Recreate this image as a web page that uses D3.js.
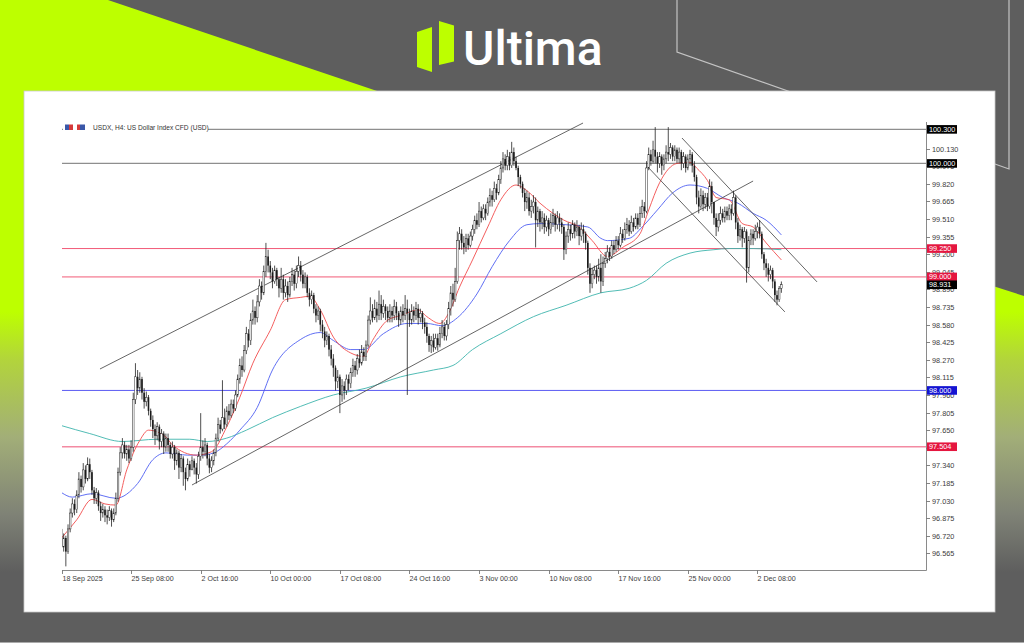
<!DOCTYPE html>
<html><head><meta charset="utf-8">
<script src="https://cdn.jsdelivr.net/npm/d3@7"></script>
<style>html,body{margin:0;padding:0;background:#5e5e5e;overflow:hidden}svg{display:block}</style>
</head><body><svg id="c" width="1024" height="643"></svg>
<script>
// ---------- DATA ----------
const xTickLabels = ["18 Sep 2025","25 Sep 08:00","2 Oct 16:00","10 Oct 00:00","17 Oct 08:00","24 Oct 16:00","3 Nov 00:00","10 Nov 08:00","17 Nov 16:00","25 Nov 00:00","2 Dec 08:00"];
const xTickBars = [0,32,64,96,128,160,192,224,256,288,320];
const yTickLabels = ["100.130","99.975","99.820","99.665","99.510","99.355","99.200","99.045","98.890","98.735","98.580","98.425","98.270","98.115","97.960","97.805","97.650","97.495","97.340","97.185","97.030","96.875","96.720","96.565"];
const title = "USDX, H4:  US Dollar Index CFD (USD)";
const firstOpen = 96.78;
const closes = [
96.62,96.70,96.58,96.78,96.92,97.00,96.95,97.08,97.22,97.15,
97.30,97.22,97.35,97.28,97.12,97.05,97.10,96.98,96.92,96.95,
96.90,96.88,96.94,96.86,96.92,97.05,97.28,97.45,97.52,97.44,
97.48,97.40,97.50,97.92,98.12,98.02,98.10,97.98,97.90,97.94,
97.82,97.74,97.66,97.60,97.68,97.55,97.62,97.50,97.58,97.52,
97.44,97.50,97.38,97.45,97.32,97.40,97.28,97.22,97.35,97.30,
97.38,97.32,97.26,97.42,97.50,97.46,97.52,97.40,97.32,97.38,
97.45,97.58,97.70,97.66,97.76,97.70,97.82,97.78,97.88,97.84,
97.96,98.10,98.22,98.18,98.35,98.50,98.44,98.62,98.70,98.64,
98.78,98.92,98.86,99.05,99.18,99.10,99.04,98.96,99.06,98.98,
98.90,98.98,98.86,98.92,98.84,98.96,99.02,98.94,99.05,99.10,
99.02,98.94,99.00,98.86,98.80,98.84,98.72,98.66,98.70,98.58,
98.52,98.44,98.48,98.36,98.28,98.20,98.08,98.12,97.96,98.04,
98.00,98.10,98.06,98.16,98.22,98.18,98.28,98.24,98.34,98.30,
98.40,98.62,98.70,98.64,98.72,98.66,98.76,98.68,98.74,98.70,
98.64,98.70,98.66,98.74,98.68,98.62,98.70,98.66,98.72,98.68,
98.62,98.70,98.66,98.72,98.64,98.68,98.60,98.56,98.48,98.40,
98.44,98.38,98.46,98.40,98.50,98.56,98.48,98.58,98.72,98.86,
98.80,98.96,99.32,99.38,99.30,99.26,99.34,99.28,99.36,99.42,
99.50,99.46,99.58,99.52,99.60,99.56,99.66,99.72,99.68,99.78,
99.74,99.86,99.96,100.04,99.98,100.06,99.98,100.10,100.02,99.96,
99.88,99.82,99.74,99.66,99.70,99.58,99.62,99.66,99.50,99.58,
99.48,99.52,99.44,99.50,99.42,99.48,99.54,99.46,99.52,99.48,
99.44,99.24,99.36,99.42,99.38,99.46,99.40,99.44,99.36,99.42,
99.38,99.30,99.08,98.94,99.02,99.06,99.00,99.08,98.96,99.12,
99.16,99.22,99.18,99.28,99.24,99.32,99.28,99.38,99.34,99.42,
99.46,99.40,99.48,99.44,99.52,99.46,99.56,99.62,99.58,99.96,
100.08,100.02,100.12,100.06,100.00,100.06,99.98,100.04,100.10,100.08,
100.14,100.06,100.12,100.04,100.10,100.00,100.06,99.96,100.04,100.08,
99.98,99.88,99.70,99.62,99.72,99.64,99.70,99.62,99.80,99.66,
99.52,99.44,99.50,99.56,99.52,99.58,99.54,99.60,99.56,99.70,
99.48,99.36,99.42,99.34,99.40,99.08,99.32,99.38,99.34,99.40,
99.44,99.38,99.20,99.12,99.08,99.02,99.06,98.96,98.84,98.80,98.90,98.931];
const highs = [
96.80,96.74,96.72,96.82,96.96,97.05,97.04,97.12,97.28,97.25,
97.36,97.34,97.41,97.40,97.30,97.15,97.14,97.12,97.02,97.00,
96.98,96.95,96.98,96.96,96.96,97.10,97.32,97.50,97.58,97.55,
97.52,97.52,97.56,97.98,98.24,98.18,98.16,98.12,98.02,97.99,
97.96,97.84,97.78,97.70,97.72,97.70,97.66,97.64,97.62,97.62,
97.54,97.55,97.52,97.48,97.47,97.44,97.42,97.32,97.40,97.38,
97.42,97.40,97.36,97.46,97.80,97.56,97.58,97.54,97.44,97.42,
97.48,97.62,97.76,97.74,98.09,97.84,97.86,97.88,97.92,97.92,
98.00,98.14,98.28,98.30,98.40,98.56,98.54,98.68,98.80,98.74,
98.84,98.98,98.96,99.10,99.30,99.24,99.14,99.08,99.10,99.08,
99.00,99.08,99.02,98.98,98.96,99.00,99.08,99.06,99.10,99.18,
99.14,99.06,99.04,99.02,98.90,98.88,98.86,98.76,98.74,98.72,
98.62,98.56,98.52,98.50,98.40,98.32,98.22,98.18,98.14,98.10,
98.08,98.14,98.14,98.20,98.28,98.26,98.32,98.36,98.40,98.38,
98.44,98.66,98.82,98.76,98.80,98.78,98.88,98.84,98.80,98.76,
98.74,98.76,98.74,98.80,98.78,98.70,98.74,98.76,98.84,98.80,
98.72,98.76,98.74,98.78,98.76,98.72,98.70,98.64,98.60,98.50,
98.48,98.50,98.50,98.50,98.56,98.62,98.60,98.62,98.78,98.92,
98.94,99.08,99.40,99.44,99.42,99.36,99.38,99.38,99.40,99.46,
99.54,99.56,99.66,99.62,99.64,99.64,99.70,99.78,99.76,99.84,
99.82,99.90,100.02,100.10,100.08,100.12,100.10,100.19,100.14,100.06,
99.98,99.90,99.84,99.78,99.76,99.74,99.68,99.72,99.70,99.62,
99.60,99.58,99.56,99.54,99.52,99.56,99.60,99.56,99.58,99.56,
99.52,99.46,99.40,99.48,99.46,99.50,99.48,99.50,99.46,99.48,
99.46,99.40,99.32,99.12,99.08,99.10,99.10,99.16,99.20,99.18,
99.22,99.28,99.26,99.32,99.32,99.36,99.36,99.44,99.42,99.48,
99.52,99.50,99.54,99.52,99.56,99.56,99.62,99.68,99.66,100.02,
100.14,100.12,100.20,100.32,100.10,100.10,100.08,100.08,100.16,100.32,
100.18,100.16,100.16,100.14,100.14,100.12,100.10,100.08,100.08,100.12,
100.10,100.02,99.90,99.76,99.78,99.76,99.74,99.74,99.86,99.84,
99.66,99.56,99.56,99.62,99.60,99.62,99.62,99.64,99.64,99.76,
99.72,99.52,99.46,99.44,99.44,99.42,99.36,99.42,99.42,99.46,
99.48,99.50,99.40,99.22,99.16,99.12,99.10,99.08,98.98,98.88,98.92,98.96];
const lows = [
96.56,96.58,96.45,96.56,96.75,96.88,96.90,96.92,97.05,97.10,
97.12,97.18,97.20,97.22,97.08,97.00,97.00,96.94,96.85,96.88,
96.84,96.82,96.85,96.80,96.84,96.90,97.02,97.25,97.40,97.40,
97.38,97.36,97.38,97.46,97.88,97.96,97.98,97.92,97.84,97.86,
97.78,97.68,97.58,97.52,97.56,97.48,97.50,97.44,97.46,97.46,
97.40,97.40,97.30,97.34,97.22,97.28,97.16,97.12,97.20,97.24,
97.30,97.26,97.18,97.22,97.38,97.40,97.42,97.34,97.27,97.28,
97.34,97.42,97.55,97.62,97.64,97.66,97.68,97.74,97.76,97.80,
97.82,97.94,98.06,98.12,98.16,98.32,98.38,98.40,98.58,98.58,
98.60,98.74,98.80,98.84,99.00,99.04,98.98,98.90,98.94,98.92,
98.82,98.86,98.80,98.82,98.78,98.82,98.92,98.88,98.90,99.00,
98.96,98.90,98.90,98.82,98.74,98.76,98.68,98.60,98.62,98.52,
98.46,98.38,98.40,98.30,98.22,98.12,98.00,98.02,97.80,97.90,
97.92,97.96,98.00,98.02,98.12,98.12,98.14,98.20,98.22,98.26,
98.26,98.38,98.58,98.60,98.62,98.60,98.62,98.62,98.64,98.62,
98.60,98.60,98.60,98.62,98.62,98.56,98.58,98.60,98.62,97.96,
98.56,98.58,98.60,98.62,98.58,98.60,98.54,98.50,98.42,98.34,
98.33,98.34,98.36,98.35,98.38,98.46,98.44,98.44,98.54,98.66,
98.74,98.78,98.94,99.24,99.24,99.20,99.22,99.24,99.26,99.32,
99.38,99.42,99.44,99.48,99.50,99.50,99.54,99.62,99.62,99.66,
99.68,99.72,99.82,99.92,99.94,99.94,99.94,99.96,99.98,99.94,
99.80,99.78,99.70,99.58,99.60,99.54,99.52,99.56,99.26,99.44,
99.40,99.42,99.38,99.40,99.36,99.38,99.44,99.40,99.42,99.40,
99.38,99.15,99.20,99.30,99.32,99.34,99.34,99.36,99.28,99.32,
99.30,99.24,99.02,98.86,98.90,98.98,98.94,98.96,98.86,98.92,
99.08,99.12,99.14,99.16,99.20,99.22,99.24,99.26,99.30,99.32,
99.38,99.36,99.38,99.40,99.42,99.42,99.44,99.52,99.52,99.56,
99.94,99.98,100.00,100.00,99.92,99.96,99.90,99.94,100.00,100.02,
100.04,100.02,100.02,100.00,100.00,99.94,99.96,99.92,99.94,99.98,
99.92,99.84,99.64,99.56,99.60,99.58,99.60,99.58,99.60,99.56,
99.46,99.36,99.40,99.46,99.48,99.48,99.50,99.50,99.50,99.54,
99.42,99.30,99.32,99.26,99.30,98.95,99.04,99.28,99.28,99.32,
99.34,99.34,99.16,99.06,99.00,98.96,98.98,98.90,98.78,98.75,98.78,98.86];
// moving averages: [bar index, value]
const maFast = [[0,96.70],[7,96.86],[14,97.04],[20,97.00],[25,96.99],[30,97.30],[36,97.56],[40,97.65],[48,97.59],[51,97.52],[62,97.43],[69,97.46],[76,97.68],[82,97.94],[88,98.24],[96,98.53],[103,98.80],[110,98.82],[114,98.83],[119,98.71],[125,98.47],[133,98.33],[139,98.30],[143,98.44],[150,98.62],[156,98.66],[164,98.71],[168,98.65],[174,98.59],[178,98.68],[183,98.91],[189,99.15],[196,99.44],[202,99.68],[209,99.81],[214,99.76],[220,99.65],[226,99.56],[231,99.50],[238,99.44],[244,99.32],[251,99.18],[258,99.26],[266,99.38],[270,99.59],[275,99.83],[283,100.00],[289,100.01],[292,99.96],[297,99.85],[301,99.70],[307,99.68],[313,99.47],[318,99.44],[324,99.30],[331,99.15]];
const maMid = [[0,97.10],[5,97.06],[14,97.09],[25,97.05],[35,97.18],[42,97.39],[48,97.45],[58,97.43],[64,97.43],[70,97.45],[76,97.53],[82,97.65],[90,97.85],[97,98.18],[110,98.45],[119,98.51],[125,98.44],[133,98.36],[139,98.36],[148,98.50],[159,98.59],[168,98.59],[175,98.57],[182,98.64],[191,98.85],[198,99.09],[206,99.32],[214,99.46],[220,99.47],[232,99.46],[242,99.44],[248,99.34],[251,99.32],[261,99.34],[267,99.44],[274,99.59],[281,99.74],[289,99.81],[297,99.78],[304,99.70],[311,99.65],[318,99.56],[324,99.50],[331,99.37]];
const maSlow = [[0,97.69],[13,97.62],[28,97.55],[44,97.57],[59,97.57],[67,97.55],[76,97.58],[85,97.65],[97,97.76],[110,97.86],[125,97.96],[140,98.02],[156,98.12],[171,98.18],[180,98.22],[189,98.36],[202,98.50],[217,98.65],[232,98.75],[248,98.86],[261,98.90],[269,98.97],[278,99.12],[289,99.21],[300,99.24],[307,99.25],[318,99.25],[331,99.24]];
// trend lines: [bar1, price1, bar2, price2]
const trendLines = [[17.7,98.189,239.8,100.356],[60,97.167,318,99.845],[285.3,100.224,347.4,98.956],[269.6,99.969,332.6,98.692]];
const levelValues = [100.300,100.000,99.250,99.000,98.000,97.504];
const levelLabels = ["100.300","100.000","99.250","99.000","98.000","97.504"];
const levelKinds = ["gray","gray","red","red","blue","pink"];
const lastPrice = 98.931;

// ---------- STYLE ----------
const lineCol = {gray:"#8e8e8e",red:"#f25a77",blue:"#5a5af2",pink:"#f38aa2"};
const boxCol = {gray:"#000000",red:"#e5163f",blue:"#1414d2",pink:"#e5163f"};
const LIME = "#bdff00", BG = "#5e5e5e";

const svg = d3.select("#c");
const defs = svg.append("defs");
const lg = defs.append("linearGradient").attr("id","lg").attr("gradientUnits","userSpaceOnUse")
  .attr("x1",0).attr("y1",0).attr("x2",0).attr("y2",643);
[[0,LIME],[0.485,LIME],[0.56,"#b2d43c"],[0.68,"#a2ae78"],[0.80,"#7f8276"],[0.89,BG],[1,BG]].forEach(s=>lg.append("stop").attr("offset",s[0]).attr("stop-color",s[1]));

svg.append("rect").attr("width",1024).attr("height",643).attr("fill",BG);
svg.append("path").attr("d","M0,0 L108,0 L380,92 L996,287 L1024,296 L1024,643 L0,643 Z").attr("fill","url(#lg)");
svg.append("path").attr("d","M677,0 L677,52 L1009,169 L1009,0").attr("fill","none").attr("stroke","#c4c4c4").attr("stroke-width",1.2);
svg.append("line").attr("x1",0).attr("x2",1024).attr("y1",642.5).attr("y2",642.5).attr("stroke","#aaa").attr("stroke-width",1);

// logo
const logo = svg.append("g");
logo.append("path").attr("d","M417,32 L432,27 L432,72 L417,67 Z").attr("fill",LIME);
logo.append("path").attr("d","M439,21 L454,25.5 L454,61.5 L439,65 Z").attr("fill",LIME);
logo.append("text").attr("x",463).attr("y",65).attr("font-family","Roboto, 'Open Sans', sans-serif").attr("font-weight",500)
  .attr("font-size",48).attr("fill","#ffffff").text("Ultima");

// panel
svg.append("rect").attr("x",24).attr("y",91).attr("width",971).attr("height",521).attr("fill","#ffffff").attr("stroke","#c8c8c8").attr("stroke-width",0.8);

// ---------- SCALES ----------
const x = d3.scaleLinear().domain([0,397.5]).range([61.5,926]);
const y = d3.scaleLinear().domain([96.418,100.365]).range([570,122]);
const plot = svg.append("g");
defs.append("clipPath").attr("id","pc").append("rect").attr("x",62).attr("y",122).attr("width",864).attr("height",448);

// axes frame
plot.append("line").attr("x1",62).attr("x2",926.5).attr("y1",570.5).attr("y2",570.5).attr("stroke","#8a8a8a");
plot.append("line").attr("x1",926.5).attr("x2",926.5).attr("y1",122).attr("y2",570.5).attr("stroke","#8a8a8a");

// y ticks
const yt = plot.append("g");
yTickLabels.forEach(t=>{
  const v=+t, yy=Math.round(y(v))+0.5;
  yt.append("line").attr("x1",926.5).attr("x2",930).attr("y1",yy).attr("y2",yy).attr("stroke","#666").attr("stroke-width",0.8);
  yt.append("text").attr("x",932).attr("y",yy).attr("dy","0.35em").attr("font-family","'Liberation Sans', Arial, sans-serif")
    .attr("font-size",7.3).attr("fill","#3c3c3c").text(t);
});
// x ticks
xTickBars.forEach((b,i)=>{
  const xx=Math.round(x(b))+0.5;
  plot.append("line").attr("x1",xx).attr("x2",xx).attr("y1",570.5).attr("y2",574).attr("stroke","#666").attr("stroke-width",0.8);
  plot.append("text").attr("x",xx).attr("y",580.5).attr("font-family","'Liberation Sans', Arial, sans-serif")
    .attr("font-size",7.1).attr("fill","#3c3c3c").text(xTickLabels[i]);
});

// horizontal levels
levelValues.forEach((v,i)=>{
  const yy=y(v);
  plot.append("line").attr("x1",62).attr("x2",926).attr("y1",yy).attr("y2",yy)
    .attr("stroke",lineCol[levelKinds[i]]).attr("stroke-width",levelKinds[i]==="gray"?1.3:(levelKinds[i]==="pink"?1.4:1));
});

// title
plot.append("rect").attr("x",63).attr("y",123.5).attr("width",145).attr("height",8).attr("fill","#fff");
plot.append("rect").attr("x",65).attr("y",124.5).attr("width",4).attr("height",5.5).attr("fill","#3a57a8");
plot.append("rect").attr("x",69).attr("y",124.5).attr("width",4).attr("height",5.5).attr("fill","#d63a3a");
plot.append("rect").attr("x",77).attr("y",124.5).attr("width",3).attr("height",5.5).attr("fill","#d63a3a");
plot.append("rect").attr("x",80).attr("y",124.5).attr("width",5).attr("height",5.5).attr("fill","#3a57a8");
plot.append("text").attr("x",93).attr("y",130).attr("font-family","'Liberation Sans', Arial, sans-serif")
  .attr("font-size",6.6).attr("fill","#333").text(title);

const clipG = plot.append("g").attr("clip-path","url(#pc)");

// moving averages
const maLine = d3.line().x(d=>x(d[0])).y(d=>y(d[1])).curve(d3.curveMonotoneX);
[[maSlow,"#3fb5ad"],[maMid,"#4f5ff2"],[maFast,"#f24d4d"]].forEach(m=>{
  clipG.append("path").attr("d",maLine(m[0])).attr("fill","none").attr("stroke",m[1]).attr("stroke-width",1).attr("stroke-opacity",0.9);
});

// trend lines
trendLines.forEach(t=>{
  clipG.append("line").attr("x1",x(t[0])).attr("y1",y(t[1])).attr("x2",x(t[2])).attr("y2",y(t[3]))
    .attr("stroke","#555").attr("stroke-width",0.9);
});

// candles
const opens = closes.map((c,i)=> i===0 ? firstOpen : closes[i-1]);
const cg = clipG.append("g");
closes.forEach((c,i)=>{
  const xx=x(i), o=opens[i];
  cg.append("line").attr("x1",xx).attr("x2",xx).attr("y1",y(highs[i])).attr("y2",y(lows[i])).attr("stroke","#222").attr("stroke-width",0.8);
  const top=y(Math.max(o,c)), bot=y(Math.min(o,c));
  const bull = c>=o;
  cg.append("rect").attr("x",xx-0.8).attr("width",1.6).attr("y",top).attr("height",Math.max(0.7,bot-top))
    .attr("fill",bull?"#ffffff":"#1a1a1a").attr("stroke","#1a1a1a").attr("stroke-width",bull?0.45:0);
});

// level boxes
function box(v,label,col){
  const yy=y(v);
  plot.append("rect").attr("x",927).attr("y",yy-4.3).attr("width",30).attr("height",8.6).attr("fill",col);
  plot.append("text").attr("x",929).attr("y",yy).attr("dy","0.35em").attr("font-family","'Liberation Sans', Arial, sans-serif")
    .attr("font-size",7.3).attr("fill","#fff").text(label);
}
levelValues.forEach((v,i)=>box(v,levelLabels[i],boxCol[levelKinds[i]]));
box(lastPrice,lastPrice.toFixed(3),"#000");
</script></body></html>
